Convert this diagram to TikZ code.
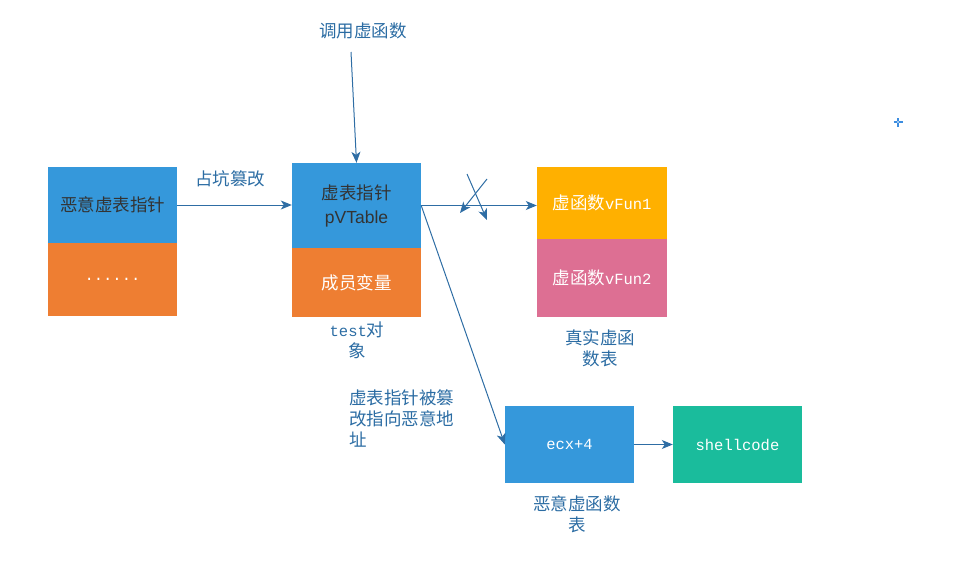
\documentclass[tikz,border=0pt]{standalone}
\usepackage{fontspec}
\setmainfont{Noto Sans CJK SC}
\newfontfamily\cjk{Noto Sans CJK SC}
\newfontfamily\monof{Liberation Mono}
\newfontfamily\sansf{Liberation Sans}
\usetikzlibrary{arrows.meta}
\definecolor{boxblue}{HTML}{3598DB}
\definecolor{boxorange}{HTML}{EE7E32}
\definecolor{boxyellow}{HTML}{FFB000}
\definecolor{boxpink}{HTML}{DD6F93}
\definecolor{boxteal}{HTML}{1ABC9C}
\definecolor{linecol}{HTML}{2E6DA4}
\definecolor{labcol}{HTML}{2B6CA3}
\definecolor{darktxt}{HTML}{333333}
\definecolor{pluscol}{HTML}{3C8DE0}
\tikzset{
  box/.style={rectangle, inner sep=0pt, minimum width=#1, text=white, font=\fontsize{17.5}{24}\selectfont},
  conn/.style={draw=linecol, line width=1pt, -{Stealth[length=11pt,width=9pt,inset=3pt]}},
  lab/.style={text=labcol, inner sep=0pt, font=\fontsize{17.5}{21}\selectfont},
  latn/.style={},
}
\newcommand{\latnf}{\monof\fontsize{15.5}{20}\selectfont}
\begin{document}
\begin{tikzpicture}[x=1pt,y=-1pt]
\useasboundingbox (0,0) rectangle (954,570);
% left block
\node[box=129pt, minimum height=76pt, fill=boxblue, text=darktxt] (ltop) at (112.5,205) {恶意虚表指针};
\node[box=129pt, minimum height=73pt, fill=boxorange] (lbot) at (112.5,279.5) {\latnf ......};
% middle block
\node[box=129pt, minimum height=85pt, fill=boxblue, text=darktxt, align=center] (mtop) at (356.5,205.5) {虚表指针\\{\sansf pVTable}};
\node[box=129pt, minimum height=69pt, fill=boxorange] (mbot) at (356.5,282.5) {成员变量};
% right block
\node[box=130pt, minimum height=72pt, fill=boxyellow] (rtop) at (602,203) {虚函数{\latnf vFun1}};
\node[box=130pt, minimum height=78pt, fill=boxpink] (rbot) at (602,278) {虚函数{\latnf vFun2}};
% bottom blocks
\node[box=129pt, minimum height=77pt, fill=boxblue] (ecx) at (569.5,444.5) {\latnf ecx+4};
\node[box=129pt, minimum height=77pt, fill=boxteal] (shell) at (737.5,444.5) {\latnf shellcode};
% labels
\node[lab] (call) at (363,31) {调用虚函数};
\node[lab] (occupy) at (230,179) {占坑篡改};
\node[lab, align=center] (testobj) at (357,340) {{\latnf test}对\\象};
\node[lab, align=left, anchor=west] (tamper) at (349,418) {虚表指针被篡\\改指向恶意地\\址};
\node[lab, align=center] (realtab) at (600,348) {真实虚函\\数表};
\node[lab, align=center] (eviltab) at (577,514) {恶意虚函数\\表};
% connectors
\coordinate (callstart) at (351,52);
\draw[conn] (callstart) -- (mtop.north);
\draw[conn] (ltop.east) -- (ltop.east -| mtop.west);
\draw[conn] (mtop.east) -- (mtop.east -| rtop.west);
\draw[conn] (mtop.east) -- (ecx.west);
\draw[conn] (ecx.east) -- (shell.west);
% cross mark
\coordinate (xa1) at (467,174);
\coordinate (xa2) at (487,220);
\coordinate (xb1) at (487,179);
\coordinate (xb2) at (460,213);
\draw[conn] (xa1) -- (xa2);
\draw[conn] (xb1) -- (xb2);
% small plus marker
\coordinate (pc) at (898,122);
\draw[pluscol, line width=1.2pt] ([xshift=-4.5pt]pc) -- ([xshift=4.5pt]pc);
\draw[pluscol, line width=1.2pt] ([yshift=-4.5pt]pc) -- ([yshift=4.5pt]pc);
\fill[white] (pc) circle (0.8pt);
\end{tikzpicture}
\end{document}
